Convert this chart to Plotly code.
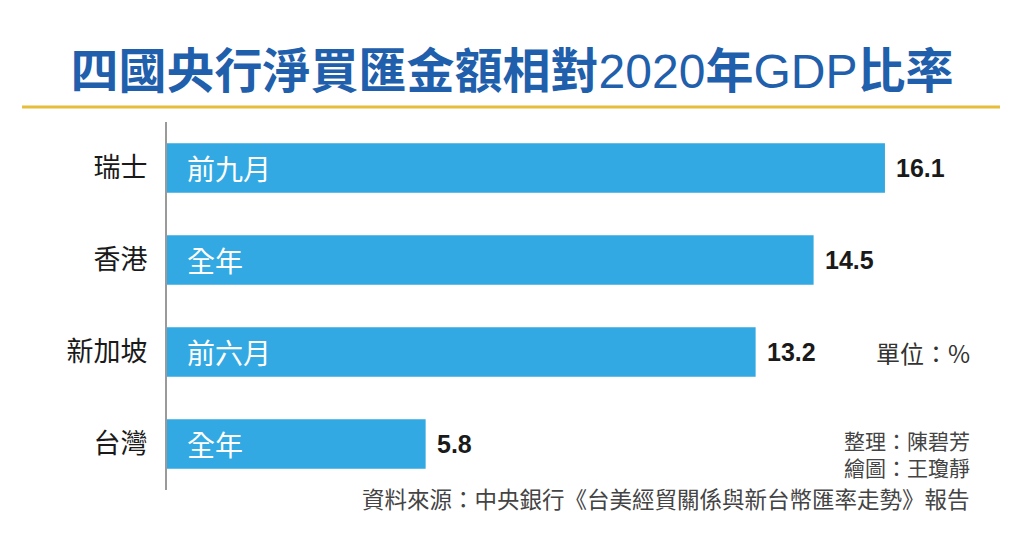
import plotly.graph_objects as go

categories = ["瑞士", "香港", "新加坡", "台灣"]
values = [16.1, 14.5, 13.2, 5.8]
periods = ["前九月", "全年", "前六月", "全年"]
value_labels = ["16.1", "14.5", "13.2", "5.8"]

title_parts = [("四國央行淨買匯金額相對", True), ("2020", False), ("年", True), ("GDP", False), ("比率", True)]
unit_text = "單位：%"
credit_lines = ["整理：陳碧芳", "繪圖：王瓊靜"]
source_text = "資料來源：中央銀行《台美經貿關係與新台幣匯率走勢》報告"

BAR_COLOR = "#32a9e2"
CJK = "Noto Sans CJK TC"
NUM = "Liberation Sans, Noto Sans CJK TC"

title_html = "".join(
    f"<b>{t}</b>" if bold else f"<span style='font-family:Liberation Sans'>{t}</span>"
    for t, bold in title_parts
)

fig = go.Figure()
fig.add_trace(go.Bar(
    x=values, y=categories, orientation="h",
    marker=dict(color=BAR_COLOR, line=dict(width=0)),
    width=0.54, hoverinfo="skip",
))

annotations = []
for c, v, p, lab in zip(categories, values, periods, value_labels):
    annotations.append(dict(x=0, y=c, xref="x", yref="y", text=p, showarrow=False,
                            xanchor="left", yanchor="middle", xshift=18,
                            font=dict(family=CJK, size=28, color="white")))
    annotations.append(dict(x=v, y=c, xref="x", yref="y", text=f"<b>{lab}</b>", showarrow=False,
                            xanchor="left", yanchor="middle", xshift=9,
                            font=dict(family=NUM, size=25, color="#1a1a1a")))

annotations.append(dict(x=0.966, y=categories[2], xref="paper", yref="y", text=unit_text,
                        showarrow=False, xanchor="right", yanchor="middle",
                        font=dict(family=CJK, size=24, color="#333333")))
annotations.append(dict(x=0.966, y=(490 - 453) / 368, xref="paper", yref="paper",
                        text="<br>".join(credit_lines), align="right",
                        showarrow=False, xanchor="right", yanchor="middle",
                        font=dict(family=CJK, size=21, color="#444444")))
annotations.append(dict(x=0.966, y=(490 - 498) / 368, xref="paper", yref="paper",
                        text=source_text, align="right",
                        showarrow=False, xanchor="right", yanchor="middle",
                        font=dict(family=CJK, size=22.5, color="#444444")))

fig.update_layout(
    width=1024, height=559,
    margin=dict(l=167, r=24, t=122, b=69),
    paper_bgcolor="white", plot_bgcolor="white",
    showlegend=False,
    title=dict(text=title_html, x=0.5, xanchor="center", xref="container",
               y=1 - 71 / 559, yanchor="middle",
               font=dict(family=CJK, size=48, color="#1f5fab")),
    xaxis=dict(range=[0, 18.68], visible=False, fixedrange=True, zeroline=False),
    yaxis=dict(categoryorder="array", categoryarray=categories, autorange="reversed",
               showline=True, linecolor="#9a9a9a", linewidth=2,
               showgrid=False, zeroline=False, ticks="", ticklabelstandoff=12,
               tickfont=dict(family=CJK, size=27, color="#1a1a1a")),
    annotations=annotations,
    shapes=[dict(type="line", xref="paper", yref="paper", x0=-0.174, x1=1.0,
                 y0=1.041, y1=1.041, line=dict(color="#e6be3a", width=3))],
)

fig.write_html("out.html", config={"displayModeBar": False},
               post_script="document.body.style.margin='0px';")
